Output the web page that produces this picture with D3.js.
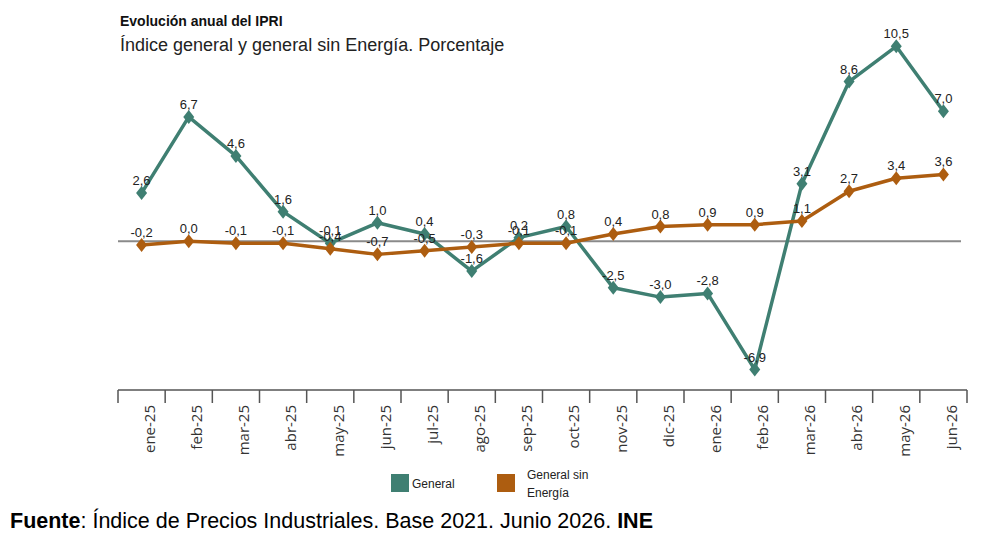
<!DOCTYPE html>
<html>
<head>
<meta charset="utf-8">
<script src="https://cdn.jsdelivr.net/npm/d3@7"></script>
<style>
  body { margin: 0; background: #fff; }
  svg { display: block; }
</style>
</head>
<body>
<div id="chart"></div>
<script>
var months = ["ene-25","feb-25","mar-25","abr-25","may-25","jun-25","jul-25","ago-25","sep-25",
              "oct-25","nov-25","dic-25","ene-26","feb-26","mar-26","abr-26","may-26","jun-26"];
var general = [2.6, 6.7, 4.6, 1.6, -0.1, 1.0, 0.4, -1.6, 0.2, 0.8, -2.5, -3.0, -2.8, -6.9, 3.1, 8.6, 10.5, 7.0];
var sinEnergia = [-0.2, 0.0, -0.1, -0.1, -0.4, -0.7, -0.5, -0.3, -0.1, -0.1, 0.4, 0.8, 0.9, 0.9, 1.1, 2.7, 3.4, 3.6];
var seriesNames = ["General", "General sin Energía"];
var colors = ["#3f7f72", "#ad5d10"];

var width = 990, height = 534;
var svg = d3.select("#chart").append("svg")
    .attr("width", width).attr("height", height);

var x = d3.scalePoint().domain(months).range([118, 967]).padding(0.5);
var y = d3.scaleLinear().domain([-8, 11]).range([390, 37]);

// titles
svg.append("text").attr("x", 120).attr("y", 26)
    .style("font", "bold 14px 'Liberation Sans', Arial, sans-serif").attr("fill", "#111")
    .text("Evolución anual del IPRI");
svg.append("text").attr("x", 120).attr("y", 51)
    .style("font", "18px 'Liberation Sans', Arial, sans-serif").attr("fill", "#222")
    .text("Índice general y general sin Energía. Porcentaje");

// zero line
svg.append("line")
    .attr("x1", 118).attr("x2", 961)
    .attr("y1", y(0)).attr("y2", y(0))
    .attr("stroke", "#8a8a8a").attr("stroke-width", 2);

// x axis
var step = x.step();
var xAxis = svg.append("g").attr("transform", "translate(0," + y(-8) + ")");
xAxis.append("line").attr("x1", 118).attr("x2", 967)
    .attr("stroke", "#555").attr("stroke-width", 1.5);
xAxis.selectAll("line.tick")
    .data(d3.range(months.length + 1))
    .enter().append("line").attr("class", "tick")
    .attr("x1", function(i){ return x(months[0]) - step / 2 + i * step; })
    .attr("x2", function(i){ return x(months[0]) - step / 2 + i * step; })
    .attr("y1", 0).attr("y2", 13)
    .attr("stroke", "#555").attr("stroke-width", 1.5);
xAxis.selectAll("text")
    .data(months)
    .enter().append("text")
    .attr("transform", function(d){ return "translate(" + (x(d) + 8) + ",15) rotate(-90)"; })
    .attr("dy", "0.35em")
    .attr("text-anchor", "end")
    .style("font", "15px 'Open Sans', 'DejaVu Sans', sans-serif")
    .attr("fill", "#333")
    .text(function(d){ return d; });

// series
var diamond = "M0,-7L5.5,0L0,7L-5.5,0Z";
var allSeries = [general, sinEnergia];
var line = d3.line()
    .x(function(d, i){ return x(months[i]); })
    .y(function(d){ return y(d); });

allSeries.forEach(function(values, s){
    svg.append("path")
        .datum(values)
        .attr("d", line)
        .attr("fill", "none")
        .attr("stroke", colors[s])
        .attr("stroke-width", 3.5)
        .attr("stroke-linejoin", "round");
    svg.selectAll("path.mk" + s)
        .data(values)
        .enter().append("path").attr("class", "mk" + s)
        .attr("d", diamond)
        .attr("transform", function(d, i){ return "translate(" + x(months[i]) + "," + y(d) + ")"; })
        .attr("fill", colors[s]);
});

// value labels
function fmt(v){ return v.toFixed(1).replace(".", ","); }
allSeries.forEach(function(values, s){
    svg.selectAll("text.lb" + s)
        .data(values)
        .enter().append("text").attr("class", "lb" + s)
        .attr("x", function(d, i){ return x(months[i]); })
        .attr("y", function(d){ return y(d) - 8; })
        .attr("text-anchor", "middle")
        .style("font", "13px 'Liberation Sans', Arial, sans-serif")
        .attr("fill", "#222")
        .text(fmt);
});

// legend
var legend = svg.append("g");
legend.append("rect").attr("x", 391).attr("y", 474).attr("width", 18).attr("height", 18).attr("fill", colors[0]);
legend.append("text").attr("x", 412).attr("y", 488)
    .style("font", "12px 'Liberation Sans', Arial, sans-serif").attr("fill", "#222").text(seriesNames[0]);
legend.append("rect").attr("x", 497).attr("y", 474).attr("width", 18).attr("height", 18).attr("fill", colors[1]);
legend.append("text").attr("x", 527).attr("y", 479)
    .style("font", "12px 'Liberation Sans', Arial, sans-serif").attr("fill", "#222").text("General sin");
legend.append("text").attr("x", 527).attr("y", 497)
    .style("font", "12px 'Liberation Sans', Arial, sans-serif").attr("fill", "#222").text("Energía");

// source
var src = svg.append("text").attr("x", 10).attr("y", 528)
    .style("font", "21.5px 'Liberation Sans', Arial, sans-serif").attr("fill", "#000");
src.append("tspan").style("font-weight", "bold").text("Fuente");
src.append("tspan").text(": Índice de Precios Industriales. Base 2021. Junio 2026. ");
src.append("tspan").style("font-weight", "bold").text("INE");
</script>
</body>
</html>
